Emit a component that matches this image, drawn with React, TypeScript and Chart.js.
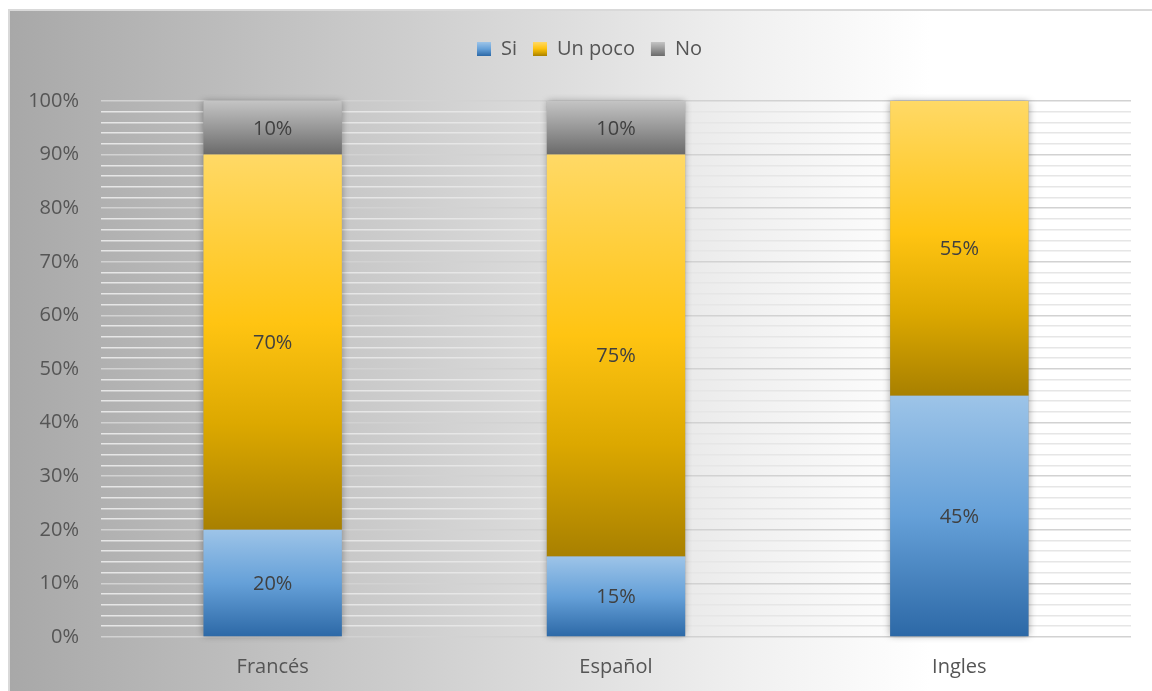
import React, { useEffect, useRef } from 'react';
import { Chart, registerables } from 'chart.js';

Chart.register(...registerables);

const categories = ['Francés', 'Español', 'Ingles'];
const seriesNames = ['Si', 'Un poco', 'No'];
const siValues = [20, 15, 45];
const unPocoValues = [70, 75, 55];
const noValues = [10, 10, 0];
const tickLabels = ['0%', '10%', '20%', '30%', '40%', '50%', '60%', '70%', '80%', '90%', '100%'];

const siStops: [number, string][] = [[0, '#9dc4e8'], [0.5, '#65a0d8'], [1, '#2c68a6']];
const unPocoStops: [number, string][] = [[0, '#ffd966'], [0.45, '#ffc412'], [0.72, '#dca800'], [1, '#a88000']];
const noStops: [number, string][] = [[0, '#c4c4c4'], [0.5, '#989898'], [1, '#6a6a6a']];
const allStops = [siStops, unPocoStops, noStops];
const legendColors = ['#5b9bd5', '#ffc000', '#a5a5a5'];

const FONT = "'Open Sans', sans-serif";
const TEXT = '#555555';

function makeGradientFill(stops: [number, string][], solid: string) {
  return (c: any) => {
    const chart = c.chart;
    if (c.type !== 'data' || !chart.chartArea || !chart.scales || !chart.scales.y) return solid;
    const ds = chart.data.datasets;
    let start = 0;
    for (let i = 0; i < c.datasetIndex; i++) start += (ds[i].data[c.dataIndex] as number) || 0;
    const end = start + ((ds[c.datasetIndex].data[c.dataIndex] as number) || 0);
    const y = chart.scales.y;
    const yTop = y.getPixelForValue(end);
    const yBot = y.getPixelForValue(start);
    if (!isFinite(yTop) || !isFinite(yBot) || yTop === yBot) return solid;
    const g = chart.ctx.createLinearGradient(0, yTop, 0, yBot);
    stops.forEach(([o, col]) => g.addColorStop(o, col));
    return g;
  };
}

const stackShadow = {
  id: 'stackShadow',
  beforeDatasetsDraw(chart: any) {
    const ctx = chart.ctx;
    const n = chart.data.labels.length;
    const metas = chart.data.datasets.map((_: any, i: number) => chart.getDatasetMeta(i));
    for (let j = 0; j < n; j++) {
      let top = Infinity, bottom = -Infinity, x = 0, w = 0;
      metas.forEach((m: any) => {
        const b = m.data[j];
        if (!b) return;
        const p = b.getProps(['x', 'y', 'base', 'width'], true);
        top = Math.min(top, p.y, p.base);
        bottom = Math.max(bottom, p.y, p.base);
        x = p.x; w = p.width;
      });
      if (!isFinite(top)) continue;
      ctx.save();
      ctx.shadowColor = 'rgba(0,0,0,0.35)';
      ctx.shadowBlur = 7;
      ctx.fillStyle = '#999';
      ctx.fillRect(x - w / 2, top, w, bottom - top);
      ctx.restore();
    }
  },
};

const valueLabels = {
  id: 'valueLabels',
  afterDatasetsDraw(chart: any) {
    const ctx = chart.ctx;
    ctx.save();
    ctx.font = `20px ${FONT}`;
    ctx.fillStyle = '#404040';
    ctx.textAlign = 'center';
    ctx.textBaseline = 'middle';
    chart.data.datasets.forEach((ds: any, i: number) => {
      const meta = chart.getDatasetMeta(i);
      meta.data.forEach((bar: any, j: number) => {
        const v = ds.data[j];
        if (!v) return;
        const p = bar.getProps(['x', 'y', 'base'], true);
        ctx.fillText(`${v}%`, p.x, (p.y + p.base) / 2 + 1);
      });
    });
    ctx.restore();
  },
};

const LEGEND_TOP = 12;
const LEGEND_PAD = 16;

const legendPlacer = {
  id: 'legendPlacer',
  afterLayout(chart: any) {
    const lg = chart.legend;
    if (!lg) return;
    const dy = LEGEND_TOP - lg.top;
    lg.top += dy; lg.bottom += dy;
    lg.left += 19; lg.right += 19;
  },
};

export default function App() {
  const ref = useRef<HTMLCanvasElement>(null);
  useEffect(() => {
    if (!ref.current) return;
    const chart = new Chart(ref.current, {
      type: 'bar',
      data: {
        labels: categories,
        datasets: [
          { label: seriesNames[0], data: siValues, backgroundColor: makeGradientFill(siStops, legendColors[0]) as any, borderWidth: 0 },
          { label: seriesNames[1], data: unPocoValues, backgroundColor: makeGradientFill(unPocoStops, legendColors[1]) as any, borderWidth: 0 },
          { label: seriesNames[2], data: noValues, backgroundColor: makeGradientFill(noStops, legendColors[2]) as any, borderWidth: 0 },
        ],
      },
      options: {
        responsive: false,
        animation: false,
        devicePixelRatio: 1,
        layout: { padding: { top: 44, right: 21, left: 0, bottom: 0 } },
        datasets: { bar: { categoryPercentage: 1, barPercentage: 0.403 } },
        plugins: {
          tooltip: { enabled: false },
          legend: {
            position: 'top',
            labels: {
              font: { family: FONT, size: 20 },
              color: TEXT,
              boxWidth: 14,
              boxHeight: 14,
              padding: LEGEND_PAD,
              generateLabels: (chart: any) => {
                const items = Chart.defaults.plugins.legend.labels.generateLabels(chart);
                const boxTop = LEGEND_TOP + LEGEND_PAD + (20 - 14) / 2;
                return items.map((it: any, i: number) => {
                  const g = chart.ctx.createLinearGradient(0, boxTop, 0, boxTop + 14);
                  allStops[i].forEach(([o, col]) => g.addColorStop(o, col));
                  return { ...it, fillStyle: g, strokeStyle: 'rgba(0,0,0,0)', lineWidth: 0 };
                });
              },
            },
          },
        },
        scales: {
          x: {
            stacked: true,
            grid: { display: false, drawTicks: false },
            border: { display: false },
            ticks: { font: { family: FONT, size: 20 }, color: TEXT, padding: 18 },
            afterFit: (s: any) => { s.height = 54; },
          },
          y: {
            stacked: true,
            min: 0,
            max: 100,
            border: { display: false },
            grid: {
              drawTicks: false,
              lineWidth: 1.6,
              color: (c: any) => (c.tick && c.tick.value % 10 === 0 ? '#d2d2d2' : '#e6e6e6'),
            },
            ticks: {
              stepSize: 2,
              autoSkip: false,
              padding: 22,
              font: { family: FONT, size: 20 },
              color: TEXT,
              callback: (v: any) => (Number(v) % 10 === 0 ? tickLabels[Number(v) / 10] : ''),
            },
            afterFit: (s: any) => { s.width = 91; },
          },
        },
      },
      plugins: [stackShadow, valueLabels, legendPlacer],
    });
    return () => chart.destroy();
  }, []);

  return (
    <div
      style={{
        position: 'fixed',
        left: 8,
        top: 9,
        width: 1150,
        height: 690,
        borderLeft: '2px solid #d9d9d9',
        borderTop: '2px solid #d9d9d9',
        background: 'linear-gradient(to right, #a8a8a8 0%, #cdcdcd 34%, #f0f0f0 64%, #ffffff 80%, #ffffff 100%)',
        overflow: 'hidden',
      }}
    >
      <canvas ref={ref} width={1142} height={680} style={{ display: 'block' }} />
    </div>
  );
}
